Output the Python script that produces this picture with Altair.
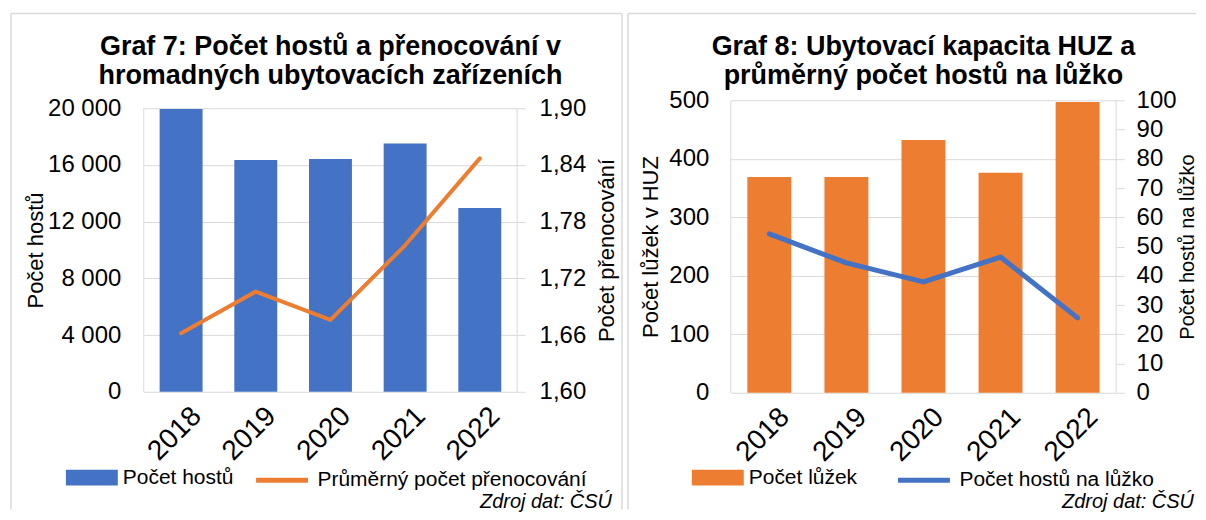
import altair as alt
import pandas as pd

# ---------------- data ----------------
years = ["2018", "2019", "2020", "2021", "2022"]
guests = [19950, 16350, 16420, 17520, 12960]          # Počet hostů
nights = [1.662, 1.706, 1.676, 1.755, 1.847]          # Průměrný počet přenocování
beds = [369, 369, 432, 376, 497]                      # Počet lůžek
guests_per_bed = [54.3, 44.4, 37.9, 46.4, 25.6]       # Počet hostů na lůžko

ticks7_left = [0, 4000, 8000, 12000, 16000, 20000]
ticks7_right = [1.60, 1.66, 1.72, 1.78, 1.84, 1.90]
ticks8_left = [0, 100, 200, 300, 400, 500]
ticks8_right = [0, 10, 20, 30, 40, 50, 60, 70, 80, 90, 100]

title7 = ["Graf 7: Počet hostů a přenocování v", "hromadných ubytovacích zařízeních"]
title8 = ["Graf 8: Ubytovací kapacita HUZ a", "průměrný počet hostů na lůžko"]
source = "Zdroj dat: ČSÚ"

FONT = "Liberation Sans"
BLUE = "#4472C4"
ORANGE = "#ED7D31"
GRID = "#d9d9d9"
BORDER = "#d9d9d9"
RECT = "M-1,-0.3H1V0.3H-1Z"

df7 = pd.DataFrame({"rok": years, "hoste": guests, "prenoc": nights,
                    "s1": "Počet hostů", "s2": "Průměrný počet přenocování"})
df8 = pd.DataFrame({"rok": years, "luzka": beds, "hnl": guests_per_bed,
                    "s1": "Počet lůžek", "s2": "Počet hostů na lůžko"})
one = pd.DataFrame({"k": [0]})

thousands = ("datum.value == 0 ? '0' : format(floor(datum.value/1000),'d') + ' ' + "
             "format(datum.value % 1000, '03d')")
decimal_comma = "replace(format(datum.value, '.2f'), '.', ',')"


def vrule(x, y1, y2, color=BORDER, w=1.5):
    return alt.Chart(one).mark_rule(color=color, strokeWidth=w).encode(
        x=alt.value(x), y=alt.value(y1), y2=alt.value(y2))


def hrule(x1, x2, y, color=BORDER, w=1.5):
    return alt.Chart(one).mark_rule(color=color, strokeWidth=w).encode(
        x=alt.value(x1), x2=alt.value(x2), y=alt.value(y))


def txt(t, x, y, size, weight="normal", style="normal", align="center"):
    return alt.Chart(one).mark_text(
        text=t, font=FONT, fontSize=size, fontWeight=weight, fontStyle=style,
        align=align, baseline="alphabetic", color="black"
    ).encode(x=alt.value(x), y=alt.value(y))


def xaxis():
    return alt.Axis(title=None, labelAngle=315, labelFontSize=28, labelPadding=10,
                    labelOffset=6, ticks=False, domain=False, grid=False)


def bar_legend(x, y):
    return alt.Legend(orient="none", legendX=x, legendY=y, title=None,
                      symbolType=RECT, symbolSize=2704, symbolStrokeWidth=0,
                      symbolOpacity=1, labelLimit=500, labelOffset=5)


def line_legend(x, y):
    return alt.Legend(orient="none", legendX=x, legendY=y, title=None,
                      symbolType="stroke", symbolSize=2704, symbolStrokeWidth=5,
                      labelLimit=500, labelOffset=7)


LEG_Y = 352
SRC_Y = 408

# ---------------- Graf 7 ----------------
W7, H7 = 374, 292
TOP7 = 8
base7 = alt.Chart(df7).encode(
    x=alt.X("rok:N", sort=years, axis=xaxis(),
            scale=alt.Scale(paddingInner=0.425, paddingOuter=0.2125))
)
bars7 = base7.mark_bar(color=BLUE).encode(
    y=alt.Y("hoste:Q", scale=alt.Scale(domain=[0, 20000], nice=False, range=[H7, TOP7]),
            axis=alt.Axis(values=ticks7_left, title="Počet hostů", grid=True,
                          gridColor=GRID, ticks=False, domain=False, labelPadding=23,
                          labelExpr=thousands, titlePadding=0, labelOverlap=False)),
    color=alt.Color("s1:N", scale=alt.Scale(range=[BLUE]), legend=bar_legend(-78, LEG_Y)),
)
line7 = base7.mark_line(strokeWidth=4, strokeCap="round", strokeJoin="round").encode(
    y=alt.Y("prenoc:Q", scale=alt.Scale(domain=[1.6, 1.9], nice=False, zero=False,
                                        range=[H7, TOP7]),
            axis=alt.Axis(orient="right", values=ticks7_right, title="Počet přenocování",
                          grid=False, ticks=True, tickSize=8, tickColor=GRID,
                          domain=False, labelPadding=14, labelExpr=decimal_comma,
                          titleAngle=270, titleBaseline="top", titlePadding=11,
                          labelOverlap=False)),
    stroke=alt.Stroke("s2:N", scale=alt.Scale(range=[ORANGE]), legend=line_legend(110, LEG_Y)),
)
deco7 = [
    vrule(0, TOP7, H7, GRID, 1), vrule(W7, TOP7, H7, GRID, 1),
    vrule(-133, -87, 410), vrule(479, -87, 410), hrule(-133, 479, -87),
    txt(title7[0], W7 / 2, -45, 27, weight="bold"),
    txt(title7[1], W7 / 2, -16, 27, weight="bold"),
    txt(source, 469, SRC_Y, 20, style="italic", align="right"),
]
c7 = alt.layer(bars7, line7, *deco7).resolve_scale(
    y="independent", color="independent", stroke="independent"
).properties(width=W7, height=H7)

# ---------------- Graf 8 ----------------
W8, H8 = 386, 293
base8 = alt.Chart(df8).encode(
    x=alt.X("rok:N", sort=years, axis=xaxis(),
            scale=alt.Scale(paddingInner=0.43, paddingOuter=0.215))
)
bars8 = base8.mark_bar(color=ORANGE).encode(
    y=alt.Y("luzka:Q", scale=alt.Scale(domain=[0, 500], nice=False),
            axis=alt.Axis(values=ticks8_left, title="Počet lůžek v HUZ", grid=True,
                          gridColor=GRID, ticks=False, domain=False, labelPadding=22,
                          titlePadding=6, labelOverlap=False)),
    color=alt.Color("s1:N", scale=alt.Scale(range=[ORANGE]), legend=bar_legend(-39, LEG_Y)),
)
line8 = base8.mark_line(strokeWidth=5, strokeCap="round", strokeJoin="round").encode(
    y=alt.Y("hnl:Q", scale=alt.Scale(domain=[0, 100], nice=False),
            axis=alt.Axis(orient="right", values=ticks8_right, title="Počet hostů na lůžko",
                          grid=False, ticks=True, tickSize=8, tickColor=GRID,
                          domain=False, labelPadding=12, titleAngle=270,
                          titleBaseline="top", titlePadding=1, titleFontSize=20,
                          labelOverlap=False)),
    stroke=alt.Stroke("s2:N", scale=alt.Scale(range=[BLUE]), legend=line_legend(165, LEG_Y)),
)
deco8 = [
    vrule(0, 0, H8, GRID, 1), vrule(W8, 0, H8, GRID, 1),
    vrule(-103, -87, 410), hrule(-103, 466, -87),
    txt(title8[0], W8 / 2, -45, 27, weight="bold"),
    txt(title8[1], W8 / 2, -16, 27, weight="bold"),
    txt(source, 464, SRC_Y, 20, style="italic", align="right"),
]
c8 = alt.layer(bars8, line8, *deco8).resolve_scale(
    y="independent", color="independent", stroke="independent"
).properties(width=W8, height=H8)

chart = alt.hconcat(c7, c8, spacing=4).properties(
    padding={"left": 2, "top": 4, "right": 0, "bottom": 0}
).configure_view(
    strokeWidth=0
).configure_axis(
    labelFont=FONT, titleFont=FONT, labelColor="black", titleColor="black",
    labelFontSize=24, titleFontSize=22, titleFontWeight="normal"
).configure_legend(
    labelFont=FONT, labelFontSize=21, labelColor="black"
)

chart.save("out.html", embed_options={"renderer": "svg", "actions": False})
